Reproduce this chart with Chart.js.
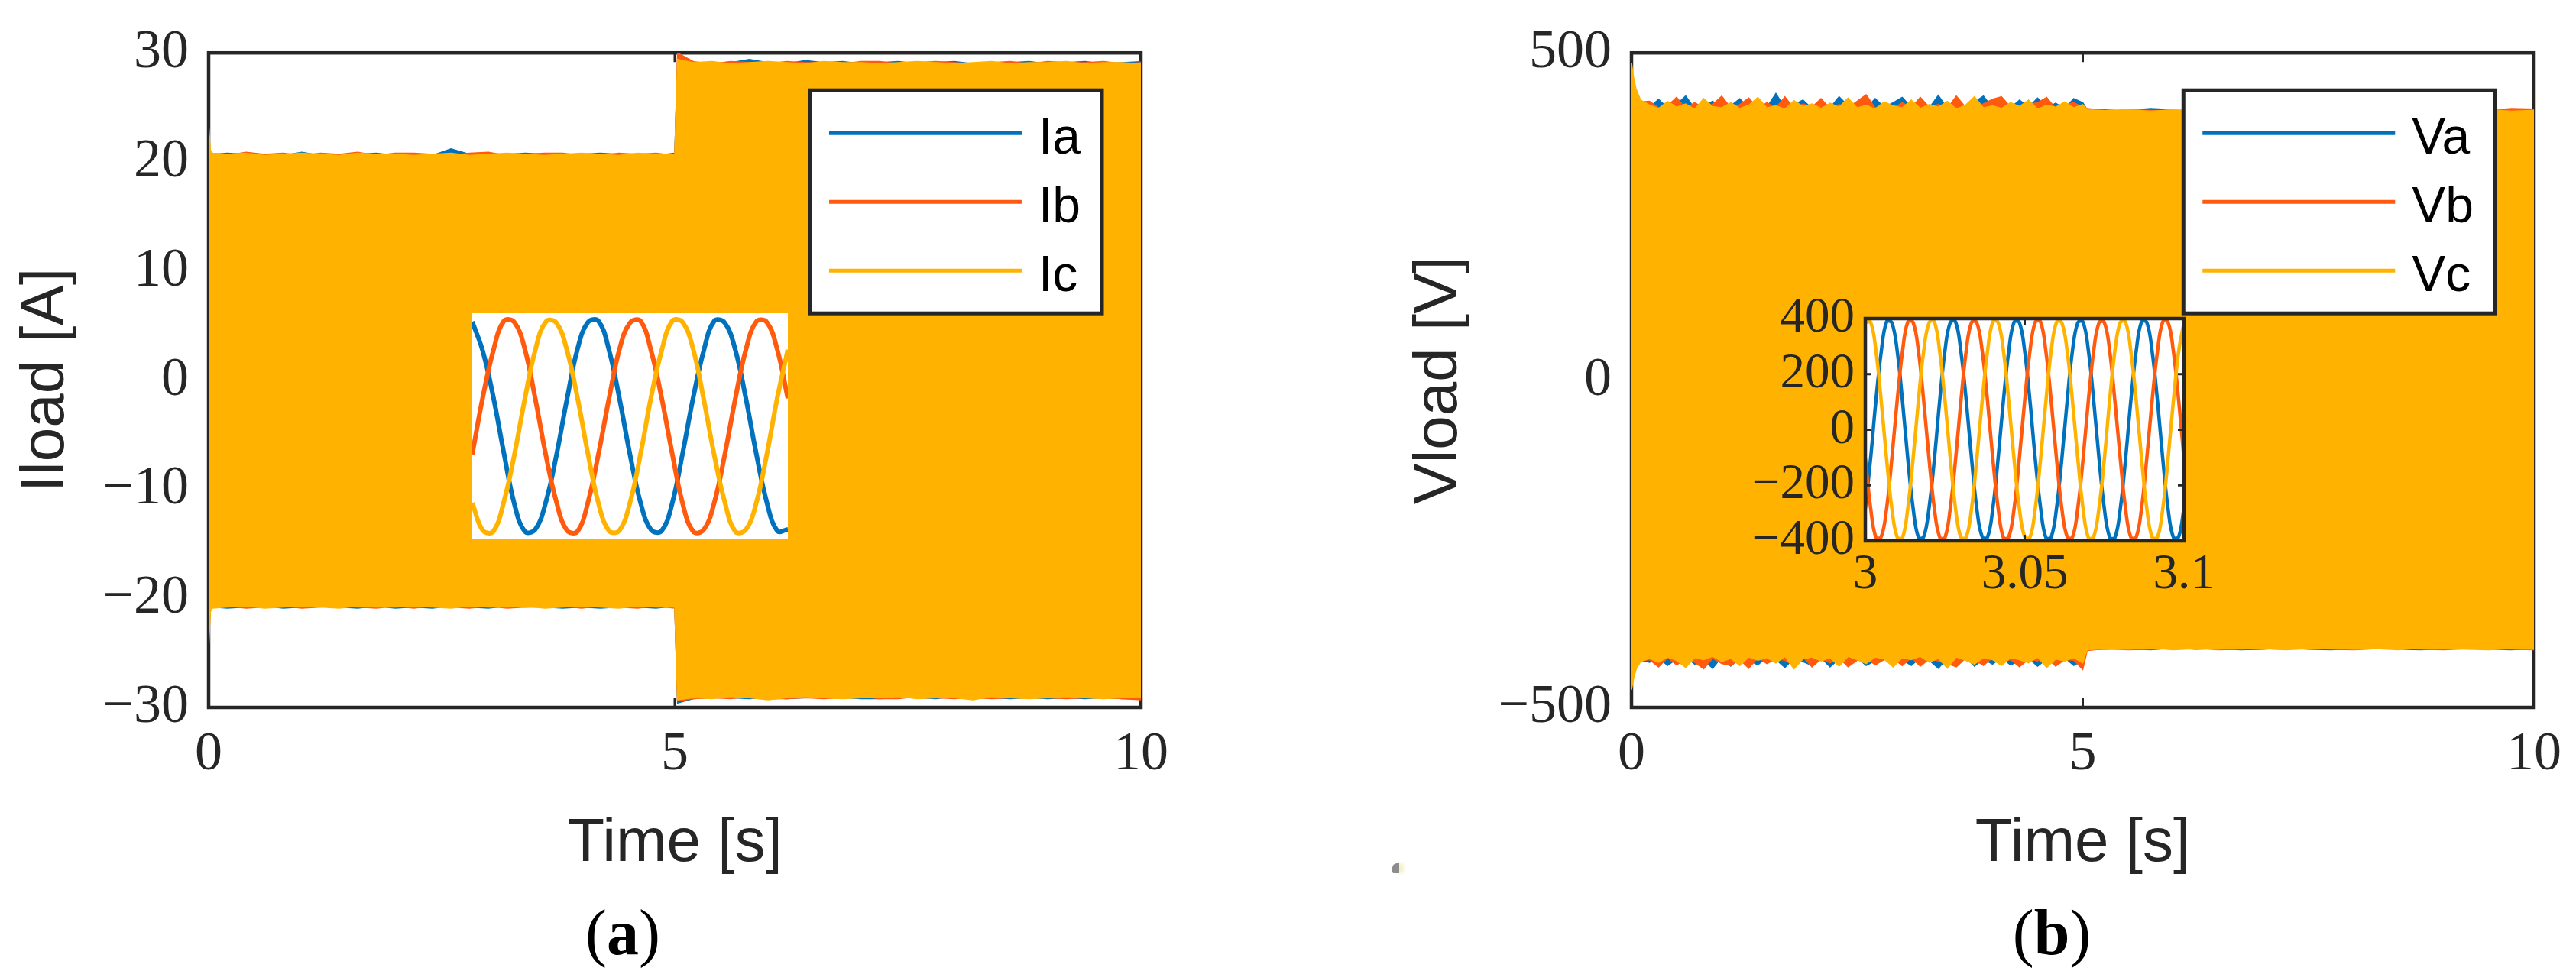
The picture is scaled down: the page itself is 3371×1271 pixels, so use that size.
<!DOCTYPE html>
<html>
<head>
<meta charset="utf-8">
<script src="https://cdn.jsdelivr.net/npm/chart.js@4.4.1/dist/chart.umd.min.js"></script>
<style>
  html, body { margin: 0; padding: 0; background: #ffffff; }
  body { width: 3371px; height: 1271px; position: relative; overflow: hidden; }
  .holder { position: absolute; }
  .cap { position: absolute; font-family: "Liberation Serif", serif; font-size: 84px; color: #000;
         transform: translate(-50%, -50%); white-space: nowrap; line-height: 1; }
  .speck { position: absolute; left: 1822px; top: 1130px; width: 9px; height: 13px;
           background: #8c8c8c; border-radius: 6px 0 0 2px; box-shadow: 6px 0 4px #f3f0c8; }
</style>
</head>
<body>
<div class="holder" style="left:0px;top:0px;"><canvas id="chartA" width="1650" height="1271"></canvas></div>
<div class="holder" style="left:1700px;top:0px;"><canvas id="chartB" width="1671" height="1271"></canvas></div>
<div class="holder" style="left:618px;top:410px;background:#ffffff;"><canvas id="insetA" width="413" height="296"></canvas></div>
<div class="holder" style="left:2250px;top:364px;"><canvas id="insetB" width="680" height="436"></canvas></div>
<div class="cap" style="left:815px;top:1221px;">(<b>a</b>)</div>
<div class="cap" style="left:2685px;top:1221px;">(<b>b</b>)</div>
<div class="speck"></div>

<script>
// ---------------- DATA ----------------
// Panel (a): envelope of the load currents over 0..10 s
const timeA = [0, 0.02, 0.04,
  0.2, 0.4, 0.6, 0.8, 1.0, 1.2, 1.4, 1.6, 1.8, 2.0,
  2.2, 2.4, 2.6, 2.8, 3.0, 3.2, 3.4, 3.6, 3.8, 4.0,
  4.2, 4.4, 4.6, 4.8, 5.0,
  5.03,
  5.2, 5.4, 5.6, 5.8, 6.0, 6.2, 6.4, 6.6, 6.8, 7.0,
  7.2, 7.4, 7.6, 7.8, 8.0, 8.2, 8.4, 8.6, 8.8, 9.0,
  9.2, 9.4, 9.6, 9.8, 10];

const iaUpper = [21.5, 20.9, 20.7,
  20.8, 20.7, 20.7, 20.6, 20.9, 20.6, 20.7, 20.7, 20.8, 20.6,
  20.7, 20.6, 21.2, 20.7, 20.6, 20.7, 20.8, 20.7, 20.6, 20.7,
  20.8, 20.7, 20.7, 20.6, 20.8,
  29.3,
  29.0, 29.1, 29.1, 29.4, 29.1, 29.0, 29.3, 29.1, 29.2, 29.0,
  29.1, 29.2, 29.0, 29.1, 29.2, 29.0, 29.1, 29.1, 29.2, 29.0,
  29.1, 29.2, 29.0, 29.1, 29.2];
const iaLower = [-23.0, -21.0, -20.8,
  -20.9, -20.8, -20.7, -20.9, -20.8, -20.7, -20.8, -20.9, -20.7, -20.9,
  -20.8, -20.9, -20.7, -20.8, -20.9, -20.7, -20.8, -20.8, -20.9, -20.8,
  -20.9, -20.8, -20.8, -20.9, -20.7,
  -29.6,
  -29.2, -29.1, -29.1, -29.2, -29.1, -29.2, -29.1, -29.0, -29.1, -29.2,
  -29.2, -29.1, -29.1, -29.2, -29.0, -29.1, -29.1, -29.2, -29.1, -29.2,
  -29.1, -29.2, -29.1, -29.2, -29.2];
const ibUpper = [22.0, 20.8, 20.8,
  20.6, 20.9, 20.7, 20.8, 20.6, 20.8, 20.7, 20.9, 20.6, 20.8,
  20.8, 20.7, 20.6, 20.8, 20.9, 20.6, 20.7, 20.8, 20.8, 20.6,
  20.6, 20.8, 20.7, 20.8, 20.6,
  30.0,
  29.2, 29.0, 29.2, 29.1, 29.0, 29.2, 29.1, 29.1, 29.0, 29.2,
  29.2, 29.0, 29.1, 29.2, 29.1, 29.0, 29.1, 29.2, 29.0, 29.2,
  29.1, 29.1, 29.2, 29.0, 29.1];
const ibLower = [-22.5, -20.9, -20.8,
  -20.7, -20.9, -20.8, -20.7, -20.9, -20.8, -20.7, -20.8, -20.9, -20.7,
  -20.9, -20.7, -20.8, -20.9, -20.7, -20.9, -20.8, -20.7, -20.7, -20.9,
  -20.7, -20.8, -20.9, -20.7, -20.9,
  -29.4,
  -29.2, -29.1, -29.2, -29.0, -29.2, -29.2, -29.1, -29.2, -29.1, -29.0,
  -29.2, -29.2, -29.0, -29.1, -29.2, -29.1, -29.2, -29.1, -29.0, -29.1,
  -29.2, -29.1, -29.1, -29.2, -29.3];
const icUpper = [23.5, 21.0, 20.8,
  20.7, 20.8, 20.6, 20.7, 20.8, 20.7, 20.6, 20.8, 20.7, 20.7,
  20.6, 20.7, 20.8, 20.6, 20.7, 20.8, 20.7, 20.6, 20.7, 20.8,
  20.7, 20.6, 20.8, 20.7, 20.7,
  29.4,
  29.1, 29.2, 29.0, 29.1, 29.2, 29.1, 29.0, 29.2, 29.1, 29.1,
  29.0, 29.1, 29.2, 29.1, 29.0, 29.1, 29.2, 29.0, 29.1, 29.1,
  29.2, 29.0, 29.1, 29.1, 29.0];
const icLower = [-24.6, -21.2, -20.9,
  -20.8, -20.7, -20.9, -20.8, -20.7, -20.8, -20.9, -20.7, -20.8, -20.8,
  -20.7, -20.8, -20.9, -20.7, -20.8, -20.8, -20.7, -20.9, -20.8, -20.7,
  -20.8, -20.9, -20.7, -20.8, -20.8,
  -29.3,
  -29.1, -29.2, -29.0, -29.1, -29.3, -29.1, -29.0, -29.1, -29.2, -29.1,
  -29.1, -29.0, -29.2, -29.1, -29.1, -29.3, -29.0, -29.1, -29.2, -29.1,
  -29.0, -29.1, -29.2, -29.1, -29.1];

// Panel (b): envelope of the load voltages over 0..10 s
const timeB = [0, 0.02, 0.05, 0.1,
  0.2, 0.3, 0.4, 0.5, 0.6, 0.7, 0.8, 0.9, 1.0,
  1.1, 1.2, 1.3, 1.4, 1.5, 1.6, 1.7, 1.8, 1.9, 2.0,
  2.1, 2.2, 2.3, 2.4, 2.5, 2.6, 2.7, 2.8, 2.9, 3.0,
  3.1, 3.2, 3.3, 3.4, 3.5, 3.6, 3.7, 3.8, 3.9, 4.0,
  4.1, 4.2, 4.3, 4.4, 4.5, 4.6, 4.7, 4.8, 4.9, 5.0,
  5.05,
  5.25, 5.5, 5.75, 6, 6.25, 6.5, 6.75, 7, 7.25, 7.5,
  7.75, 8, 8.25, 8.5, 8.75, 9, 9.25, 9.5, 9.75, 10];

const vaUpper = [470, 458, 440, 424,
  417, 429, 416, 421, 434, 415, 420, 426, 415,
  419, 430, 415, 422, 417, 438, 416, 421, 428, 415,
  421, 416, 433, 419, 423, 415, 430, 417, 424, 432,
  417, 423, 416, 435, 415, 421, 418, 425, 434, 416,
  422, 416, 428, 417, 431, 416, 423, 415, 430, 424,
  413,
  413, 411, 414, 412, 411, 413, 414, 411, 413, 412,
  411, 414, 412, 411, 413, 414, 411, 412, 413, 411];
const vaLower = [-465, -452, -440, -428,
  -431, -424, -436, -426, -423, -434, -428, -440, -423,
  -437, -424, -428, -435, -423, -427, -439, -425, -430, -436,
  -424, -438, -426, -430, -424, -436, -429, -424, -433, -427,
  -436, -424, -428, -440, -425, -430, -423, -437, -426, -434,
  -424, -435, -429, -425, -437, -426, -432, -424, -436, -428,
  -411,
  -411, -410, -412, -409, -411, -410, -412, -411, -409, -411,
  -412, -410, -409, -411, -412, -410, -409, -411, -412, -410];
const vbUpper = [475, 460, 442, 425,
  426, 416, 419, 432, 415, 424, 416, 421, 434,
  416, 421, 431, 415, 424, 416, 433, 415, 422, 417,
  430, 415, 421, 416, 426, 436, 416, 421, 415, 424,
  416, 432, 417, 421, 415, 434, 417, 416, 422, 429,
  433, 417, 415, 421, 424, 432, 415, 420, 424, 417,
  414,
  411, 413, 412, 411, 414, 412, 413, 412, 411, 414,
  412, 411, 413, 414, 411, 412, 413, 411, 414, 413];
const vbLower = [-468, -455, -441, -429,
  -427, -438, -424, -435, -426, -431, -441, -425, -433,
  -436, -427, -440, -424, -433, -426, -428, -436, -423, -438,
  -426, -432, -424, -438, -428, -424, -435, -427, -425, -436,
  -424, -437, -426, -429, -433, -438, -425, -427, -436, -424,
  -431, -427, -438, -426, -429, -424, -437, -427, -428, -442,
  -413,
  -410, -412, -411, -410, -409, -412, -411, -410, -411, -409,
  -411, -412, -410, -409, -411, -412, -410, -409, -411, -412];
const vcUpper = [485, 465, 445, 428,
  420, 415, 426, 417, 422, 414, 430, 418, 416,
  424, 415, 420, 432, 416, 419, 414, 427, 418, 422,
  415, 423, 417, 431, 416, 420, 414, 425, 419, 416,
  428, 415, 421, 417, 426, 414, 420, 433, 416, 419,
  415, 424, 418, 428, 414, 420, 417, 425, 416, 421,
  413,
  412, 413, 411, 413, 412, 414, 411, 413, 412, 411,
  413, 412, 411, 413, 412, 411, 412, 413, 411, 412];
const vcLower = [-473, -458, -442, -430,
  -425, -431, -423, -428, -439, -424, -427, -422, -430,
  -425, -436, -423, -428, -424, -432, -422, -441, -426, -423,
  -429, -424, -437, -422, -427, -433, -423, -426, -438, -424,
  -427, -422, -431, -425, -440, -423, -428, -434, -424, -427,
  -436, -424, -427, -432, -423, -439, -426, -429, -424, -432,
  -412,
  -410, -411, -409, -412, -410, -411, -409, -410, -412, -410,
  -409, -411, -410, -412, -409, -410, -411, -412, -410, -411];

// Inset (a): zoom of the currents, 3.00 .. 3.05 s
const zoomTimeA = [3, 3.00167, 3.00333, 3.005, 3.00667, 3.00833, 3.01, 3.01167, 3.01333, 3.015,
  3.01667, 3.01833, 3.02, 3.02167, 3.02333, 3.025, 3.02667, 3.02833, 3.03, 3.03167,
  3.03333, 3.035, 3.03667, 3.03833, 3.04, 3.04167, 3.04333, 3.045, 3.04667, 3.04833, 3.05];
const zoomIa = [19.8, 14.2, 5.6, -5.0, -14.7, -19.9, -19.5, -14.3, -5.5, 5.1, 14.6, 19.7,
  19.9, 14.4, 5.2, -5.4, -14.5, -19.6, -19.8, -14.6, -5.1, 5.4, 14.3, 19.9,
  19.6, 14.5, 5.4, -5.2, -14.4, -19.8, -19.5];
const zoomIb = [-5.3, 5.5, 14.3, 19.9, 19.7, 14.6, 5.1, -5.5, -14.3, -19.7, -19.9, -14.4,
  -5.2, 5.3, 14.6, 19.6, 19.9, 14.3, 5.4, -5.1, -14.6, -19.9, -19.6, -14.5,
  -5.4, 5.2, 14.4, 19.8, 19.7, 14.5, 5.3];
const zoomIc = [-14.5, -19.7, -19.9, -14.3, -5.4, 5.2, 14.5, 19.8, 19.6, 14.4, 5.4, -5.2,
  -14.6, -19.8, -19.7, -14.4, -5.2, 5.5, 14.3, 19.9, 19.7, 14.6, 5.1, -5.4,
  -14.3, -19.9, -19.6, -14.5, -5.3, 5.4, 14.5];

// Inset (b): zoom of the voltages, 3.00 .. 3.10 s
const zoomTimeB = [3, 3.00167, 3.00333, 3.005, 3.00667, 3.00833, 3.01, 3.01167, 3.01333, 3.015,
  3.01667, 3.01833, 3.02, 3.02167, 3.02333, 3.025, 3.02667, 3.02833, 3.03, 3.03167,
  3.03333, 3.035, 3.03667, 3.03833, 3.04, 3.04167, 3.04333, 3.045, 3.04667, 3.04833,
  3.05, 3.05167, 3.05333, 3.055, 3.05667, 3.05833, 3.06, 3.06167, 3.06333, 3.065,
  3.06667, 3.06833, 3.07, 3.07167, 3.07333, 3.075, 3.07667, 3.07833, 3.08, 3.08167,
  3.08333, 3.085, 3.08667, 3.08833, 3.09, 3.09167, 3.09333, 3.095, 3.09667, 3.09833, 3.1];
const zoomVa = [-283, -102, 106, 281, 388, 385, 284, 102, -105, -282, -387, -385,
  -281, -106, 103, 285, 386, 388, 281, 105, -103, -285, -385, -387,
  -284, -103, 105, 282, 387, 386, 283, 103, -106, -281, -388, -386,
  -282, -105, 102, 284, 385, 387, 285, 104, -103, -283, -386, -388,
  -285, -104, 106, 283, 388, 386, 282, 105, -104, -284, -387, -385,
  -283];
const zoomVb = [-104, -282, -387, -385, -284, -103, 105, 282, 388, 386, 283, 103,
  -105, -284, -386, -388, -281, -106, 103, 285, 386, 385, 284, 106,
  -103, -281, -388, -386, -285, -104, 104, 283, 387, 388, 281, 104,
  -106, -283, -385, -387, -282, -105, 106, 284, 385, 386, 285, 102,
  -104, -285, -387, -386, -283, -102, 105, 281, 388, 387, 282, 105,
  -104];
const zoomVc = [386, 387, 284, 102, -105, -283, -386, -388, -282, -104, 105, 284,
  385, 388, 282, 106, -103, -285, -387, -386, -284, -103, 104, 281,
  388, 386, 285, 103, -106, -282, -385, -387, -283, -105, 103, 283,
  387, 385, 283, 104, -104, -284, -388, -385, -281, -106, 106, 285,
  386, 387, 281, 105, -102, -283, -386, -387, -285, -104, 104, 282,
  386];

// Tick values
const mainTimeTicks = [0, 5, 10];
const currentTicks = [-30, -20, -10, 0, 10, 20, 30];
const voltageTicks = [-500, 0, 500];
const zoomTimeTicks = [3, 3.05, 3.1];
const zoomVoltTicks = [-400, -200, 0, 200, 400];

// ---------------- STYLE ----------------
const BLUE = '#0072BD', RED = '#FF5A0E', YEL = '#FFB300', INK = '#262626';
const SERIF = '"Liberation Serif", "DejaVu Serif", serif';
const SANS = '"Liberation Sans", Arial, sans-serif';

const pts = (t, v) => t.map((x, i) => ({ x: x, y: v[i] }));
const fmtNum = v => {
  const r = Math.round(v * 100) / 100;
  return r < 0 ? '\u2212' + String(-r) : String(r);
};
const fixedTicks = list => (scale) => { scale.ticks = list.map(v => ({ value: v })); };

// MATLAB-like box with inward ticks
const matlabAxes = {
  id: 'matlabAxes',
  beforeDatasetsDraw(chart, args, o) {
    const a = chart.chartArea, ctx = chart.ctx;
    if (o.background) {
      ctx.save(); ctx.fillStyle = o.background;
      ctx.fillRect(a.left, a.top, a.right - a.left, a.bottom - a.top); ctx.restore();
    }
    if (!o.onTop) drawBox(chart, o);
  },
  afterDatasetsDraw(chart, args, o) { if (o.onTop) drawBox(chart, o); }
};
function drawBox(chart, o) {
  const { ctx, chartArea: a } = chart;
  const x = chart.scales.x, y = chart.scales.y;
  const L = o.tickLen;
  ctx.save();
  ctx.strokeStyle = INK;
  ctx.lineWidth = o.tickWidth;
  ctx.beginPath();
  x.ticks.forEach(t => {
    const p = x.getPixelForValue(t.value);
    ctx.moveTo(p, a.bottom); ctx.lineTo(p, a.bottom - L);
    ctx.moveTo(p, a.top); ctx.lineTo(p, a.top + L);
  });
  y.ticks.forEach(t => {
    const p = y.getPixelForValue(t.value);
    ctx.moveTo(a.left, p); ctx.lineTo(a.left + L, p);
    ctx.moveTo(a.right, p); ctx.lineTo(a.right - L, p);
  });
  ctx.stroke();
  ctx.lineWidth = o.boxWidth;
  ctx.strokeRect(a.left, a.top, a.right - a.left, a.bottom - a.top);
  ctx.restore();
}

// Framed legend in the upper right corner of the axes
const boxLegend = {
  id: 'boxLegend',
  afterDatasetsDraw(chart, args, o) {
    if (!o || !o.show) return;
    const { ctx, chartArea: a } = chart;
    const items = chart.data.datasets.filter(d => d.legendRank !== undefined)
      .sort((p, q) => p.legendRank - q.legendRank);
    ctx.save();
    ctx.font = o.fontSize + 'px ' + SANS;
    const tw = Math.max(...items.map(d => ctx.measureText(d.label).width));
    const w = 25 + 252 + 24 + tw + 26;
    const h = 292;
    const x2 = a.right - 51, x1 = x2 - w, y1 = a.top + 49;
    ctx.fillStyle = '#ffffff';
    ctx.fillRect(x1, y1, w, h);
    ctx.lineWidth = 5; ctx.strokeStyle = INK;
    ctx.strokeRect(x1, y1, w, h);
    items.forEach((d, i) => {
      const ly = y1 + 56 + i * 90;
      ctx.strokeStyle = d.borderColor; ctx.lineWidth = 5;
      ctx.beginPath(); ctx.moveTo(x1 + 25, ly); ctx.lineTo(x1 + 277, ly); ctx.stroke();
      ctx.fillStyle = '#000000'; ctx.textBaseline = 'alphabetic'; ctx.textAlign = 'left';
      ctx.fillText(d.label, x1 + 299, y1 + 83 + i * 90);
    });
    ctx.restore();
  }
};

function bands(time, list) {
  const out = [];
  list.forEach(p => {
    out.push({ label: p.label, legendRank: p.rank, data: pts(time, p.up), borderColor: p.color,
      backgroundColor: p.color, borderWidth: 1.5, pointRadius: 0, tension: 0, fill: '+1' });
    out.push({ label: p.label + ' min', data: pts(time, p.lo), borderColor: p.color,
      backgroundColor: p.color, borderWidth: 1.5, pointRadius: 0, tension: 0, fill: false });
  });
  return out;
}

function mainConfig(o) {
  return {
    type: 'line',
    data: { datasets: o.datasets },
    plugins: [matlabAxes, boxLegend],
    options: {
      responsive: false, animation: false, events: [],
      layout: { padding: { left: 0, top: 57, right: o.padRight, bottom: 0 } },
      plugins: {
        legend: { display: false }, tooltip: { enabled: false },
        matlabAxes: { tickLen: 12, tickWidth: 3, boxWidth: 4.5, onTop: false },
        boxLegend: { show: true, fontSize: 66 }
      },
      scales: {
        x: {
          type: 'linear', min: 0, max: 10,
          grid: { display: false, drawTicks: false }, border: { display: false },
          afterBuildTicks: fixedTicks(mainTimeTicks),
          ticks: { padding: 19, maxRotation: 0, autoSkip: false, color: INK,
                   font: { family: SERIF, size: 72 }, callback: fmtNum },
          title: { display: true, text: 'Time [s]', color: INK,
                   font: { family: SANS, size: 80 }, padding: { top: 0, bottom: 118 } },
          afterFit: s => { s.height = 345; }
        },
        y: {
          type: 'linear', min: o.ymin, max: o.ymax,
          grid: { display: false, drawTicks: false }, border: { display: false },
          afterBuildTicks: fixedTicks(o.yticks),
          ticks: { padding: 26, autoSkip: false, color: INK,
                   font: { family: SERIF, size: 72 }, callback: fmtNum },
          title: { display: true, text: o.ytitle, color: INK,
                   font: { family: SANS, size: 80 }, padding: { top: o.titlePad, bottom: 0 } },
          afterFit: s => { s.width = o.yWidth; }
        }
      }
    }
  };
}

new Chart(document.getElementById('chartA'), mainConfig({
  datasets: bands(timeA, [
    { label: 'Ic', rank: 2, color: YEL, up: icUpper, lo: icLower },
    { label: 'Ib', rank: 1, color: RED, up: ibUpper, lo: ibLower },
    { label: 'Ia', rank: 0, color: BLUE, up: iaUpper, lo: iaLower }
  ]),
  padRight: 157, ymin: -30, ymax: 30, yticks: currentTicks,
  ytitle: 'Iload [A]', titlePad: 13, yWidth: 273
}));

new Chart(document.getElementById('chartB'), mainConfig({
  datasets: bands(timeB, [
    { label: 'Vc', rank: 2, color: YEL, up: vcUpper, lo: vcLower },
    { label: 'Vb', rank: 1, color: RED, up: vbUpper, lo: vbLower },
    { label: 'Va', rank: 0, color: BLUE, up: vaUpper, lo: vaLower }
  ]),
  padRight: 51, ymin: -500, ymax: 500, yticks: voltageTicks,
  ytitle: 'Vload [V]', titlePad: 136, yWidth: 435
}));

function waveSet(label, color, t, v, w) {
  return { label: label, data: pts(t, v), borderColor: color, backgroundColor: color,
           borderWidth: w, pointRadius: 0, tension: 0.4, fill: false };
}

// Inset (a): no axes, white panel
new Chart(document.getElementById('insetA'), {
  type: 'line',
  data: { datasets: [
    waveSet('Ic', YEL, zoomTimeA, zoomIc, 6),
    waveSet('Ib', RED, zoomTimeA, zoomIb, 6),
    waveSet('Ia', BLUE, zoomTimeA, zoomIa, 6)
  ] },
  options: {
    responsive: false, animation: false, events: [],
    layout: { padding: 0 },
    plugins: { legend: { display: false }, tooltip: { enabled: false } },
    scales: {
      x: { type: 'linear', min: 3, max: 3.05, display: false },
      y: { type: 'linear', min: -21.4, max: 21.4, display: false }
    }
  }
});

// Inset (b): framed axes with ticks
new Chart(document.getElementById('insetB'), {
  type: 'line',
  data: { datasets: [
    waveSet('Vc', YEL, zoomTimeB, zoomVc, 4.5),
    waveSet('Vb', RED, zoomTimeB, zoomVb, 4.5),
    waveSet('Va', BLUE, zoomTimeB, zoomVa, 4.5)
  ] },
  plugins: [matlabAxes],
  options: {
    responsive: false, animation: false, events: [],
    layout: { padding: { left: 0, top: 45, right: 72, bottom: 0 } },
    plugins: {
      legend: { display: false }, tooltip: { enabled: false },
      matlabAxes: { tickLen: 8, tickWidth: 3, boxWidth: 4.5, onTop: true, background: '#ffffff' }
    },
    scales: {
      x: {
        type: 'linear', min: 3, max: 3.1,
        grid: { display: false, drawTicks: false }, border: { display: false },
        afterBuildTicks: fixedTicks(zoomTimeTicks),
        ticks: { padding: 6, maxRotation: 0, autoSkip: false, color: INK,
                 font: { family: SERIF, size: 65 }, callback: fmtNum },
        afterFit: s => { s.height = 92; }
      },
      y: {
        type: 'linear', min: -400, max: 400,
        grid: { display: false, drawTicks: false }, border: { display: false },
        afterBuildTicks: fixedTicks(zoomVoltTicks),
        ticks: { padding: 14, autoSkip: false, color: INK,
                 font: { family: SERIF, size: 65 }, callback: fmtNum },
        afterFit: s => { s.width = 191; }
      }
    }
  }
});
</script>
</body>
</html>
